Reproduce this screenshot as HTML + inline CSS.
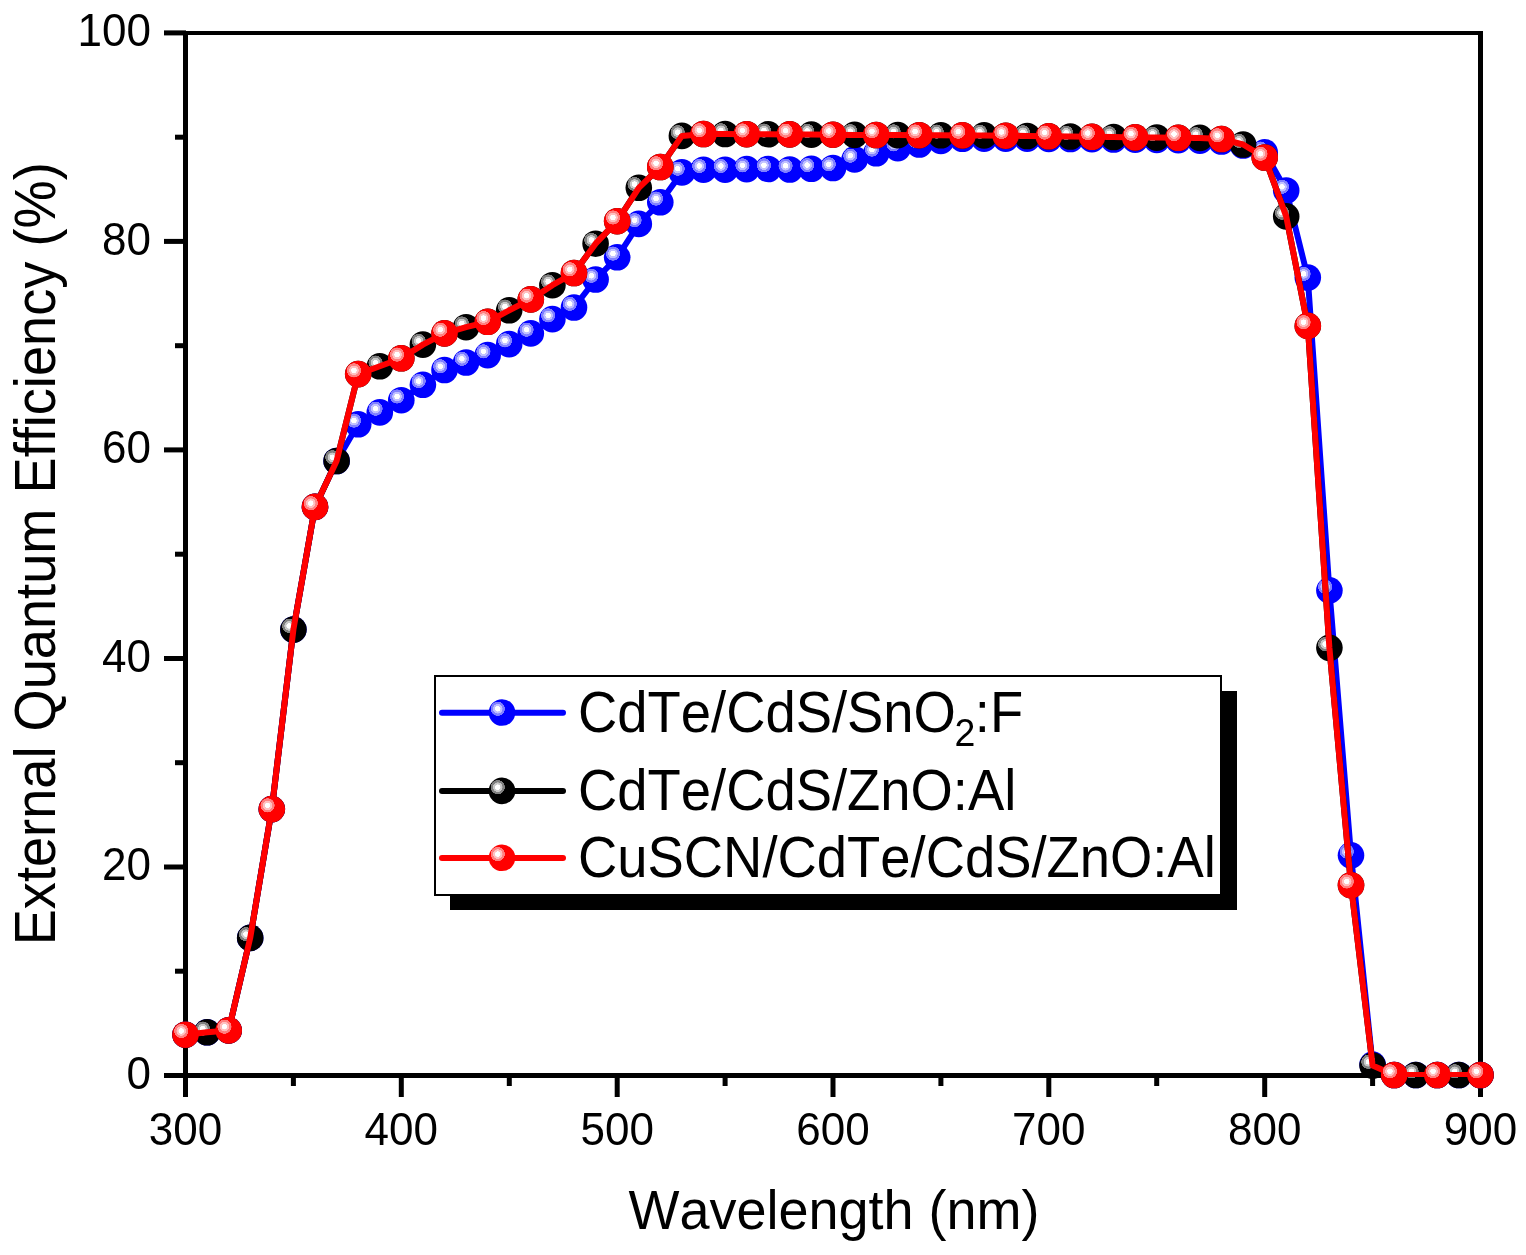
<!DOCTYPE html>
<html><head><meta charset="utf-8"><title>EQE</title>
<style>
html,body{margin:0;padding:0;background:#fff;}
body{width:1526px;height:1255px;overflow:hidden;}
svg{display:block;font-family:"Liberation Sans",Arial,sans-serif;font-kerning:none;font-feature-settings:"kern" 0;}
</style></head><body>
<svg width="1526" height="1255" viewBox="0 0 1526 1255">
<defs>
<radialGradient id="gB" cx="0.34" cy="0.36" fx="0.34" fy="0.36" r="0.27">
<stop offset="0" stop-color="#fff"/><stop offset="0.36" stop-color="#fff"/>
<stop offset="0.4" stop-color="#c0c0ff"/><stop offset="0.64" stop-color="#c0c0ff"/>
<stop offset="0.68" stop-color="#8080ff"/><stop offset="0.96" stop-color="#8080ff"/>
<stop offset="1" stop-color="#0000ff"/></radialGradient>
<radialGradient id="gK" cx="0.34" cy="0.36" fx="0.34" fy="0.36" r="0.27">
<stop offset="0" stop-color="#fff"/><stop offset="0.36" stop-color="#fff"/>
<stop offset="0.4" stop-color="#c8c8c8"/><stop offset="0.64" stop-color="#c8c8c8"/>
<stop offset="0.68" stop-color="#808080"/><stop offset="0.96" stop-color="#808080"/>
<stop offset="1" stop-color="#000000"/></radialGradient>
<radialGradient id="gR" cx="0.34" cy="0.36" fx="0.34" fy="0.36" r="0.27">
<stop offset="0" stop-color="#fff"/><stop offset="0.36" stop-color="#fff"/>
<stop offset="0.4" stop-color="#ffc0c0"/><stop offset="0.64" stop-color="#ffc0c0"/>
<stop offset="0.68" stop-color="#ff8080"/><stop offset="0.96" stop-color="#ff8080"/>
<stop offset="1" stop-color="#ff0000"/></radialGradient>
<clipPath id="clip"><rect x="183" y="31" width="1300" height="1046"/></clipPath>
</defs>
<rect width="1526" height="1255" fill="#fff"/>
<g fill="#000">
<rect x="183" y="31" width="1300" height="4"/>
<rect x="183" y="1073" width="1300" height="5"/>
<rect x="183" y="31" width="5" height="1066"/>
<rect x="1478" y="31" width="5" height="1066"/>
<rect x="164" y="1073.0" width="22" height="5"/>
<rect x="164" y="864.5" width="22" height="5"/>
<rect x="164" y="656.0" width="22" height="5"/>
<rect x="164" y="447.4" width="22" height="5"/>
<rect x="164" y="238.9" width="22" height="5"/>
<rect x="164" y="30.4" width="22" height="5"/>
<rect x="175" y="968.7" width="11" height="5"/>
<rect x="175" y="760.2" width="11" height="5"/>
<rect x="175" y="551.7" width="11" height="5"/>
<rect x="175" y="343.2" width="11" height="5"/>
<rect x="175" y="134.7" width="11" height="5"/>
<rect x="183.0" y="1075" width="5" height="22"/>
<rect x="398.8" y="1075" width="5" height="22"/>
<rect x="614.7" y="1075" width="5" height="22"/>
<rect x="830.5" y="1075" width="5" height="22"/>
<rect x="1046.3" y="1075" width="5" height="22"/>
<rect x="1262.2" y="1075" width="5" height="22"/>
<rect x="1478.0" y="1075" width="5" height="22"/>
<rect x="290.9" y="1075" width="5" height="11"/>
<rect x="506.8" y="1075" width="5" height="11"/>
<rect x="722.6" y="1075" width="5" height="11"/>
<rect x="938.4" y="1075" width="5" height="11"/>
<rect x="1154.2" y="1075" width="5" height="11"/>
<rect x="1370.1" y="1075" width="5" height="11"/>
</g>
<g font-size="44" fill="#000">
<text transform="translate(151,1088.8) scale(1,1.03)" text-anchor="end">0</text>
<text transform="translate(151,880.3) scale(1,1.03)" text-anchor="end">20</text>
<text transform="translate(151,671.8) scale(1,1.03)" text-anchor="end">40</text>
<text transform="translate(151,463.2) scale(1,1.03)" text-anchor="end">60</text>
<text transform="translate(151,254.7) scale(1,1.03)" text-anchor="end">80</text>
<text transform="translate(151,46.2) scale(1,1.03)" text-anchor="end">100</text>
</g>
<g font-size="44" fill="#000" text-anchor="middle">
<text transform="translate(185.5,1145) scale(1,1.03)">300</text>
<text transform="translate(401.3,1145) scale(1,1.03)">400</text>
<text transform="translate(617.2,1145) scale(1,1.03)">500</text>
<text transform="translate(833.0,1145) scale(1,1.03)">600</text>
<text transform="translate(1048.8,1145) scale(1,1.03)">700</text>
<text transform="translate(1264.7,1145) scale(1,1.03)">800</text>
<text transform="translate(1480.5,1145) scale(1,1.03)">900</text>
</g>
<text transform="translate(834,1228.7) scale(1,1.04)" font-size="54" text-anchor="middle">Wavelength (nm)</text>
<text transform="translate(55,553.8) rotate(-90) scale(1,1.045)" font-size="54.2" text-anchor="middle">External Quantum Efficiency (%)</text>
<g fill="none" stroke-width="6" stroke-linejoin="round" clip-path="url(#clip)">
<polyline stroke="#0000ff" points="185.5,1034.7 207.1,1032.3 228.7,1030.4 250.2,937.9 271.8,809.1 293.4,629.6 315.0,506.9 336.6,461.0 358.2,424.3 379.8,412.4 401.3,400.2 422.9,384.8 444.5,370.0 466.1,362.5 487.7,355.1 509.2,344.1 530.8,333.4 552.4,319.1 574.0,307.5 595.6,279.5 617.2,257.3 638.8,223.9 660.3,202.3 681.9,172.4 703.5,169.7 725.1,169.7 746.7,169.1 768.2,169.0 789.8,169.5 811.4,168.8 833.0,168.0 854.6,159.4 876.2,153.3 897.8,148.1 919.3,144.5 940.9,140.9 962.5,138.8 984.1,138.6 1005.7,138.6 1027.2,138.7 1048.8,138.9 1070.4,139.0 1092.0,139.2 1113.6,139.5 1135.2,139.7 1156.8,139.9 1178.3,140.1 1199.9,140.6 1221.5,141.5 1243.1,145.5 1264.7,152.3 1286.2,190.5 1307.8,277.6 1329.4,590.4 1351.0,855.3 1372.6,1064.6 1394.2,1075.0 1415.8,1075.0 1437.3,1075.0 1458.9,1075.0 1480.5,1075.0"/>
</g>
<circle cx="185.5" cy="1034.7" r="13.3" fill="url(#gB)"/>
<circle cx="207.1" cy="1032.3" r="13.3" fill="url(#gB)"/>
<circle cx="228.7" cy="1030.4" r="13.3" fill="url(#gB)"/>
<circle cx="250.2" cy="937.9" r="13.3" fill="url(#gB)"/>
<circle cx="271.8" cy="809.1" r="13.3" fill="url(#gB)"/>
<circle cx="293.4" cy="629.6" r="13.3" fill="url(#gB)"/>
<circle cx="315.0" cy="506.9" r="13.3" fill="url(#gB)"/>
<circle cx="336.6" cy="461.0" r="13.3" fill="url(#gB)"/>
<circle cx="358.2" cy="424.3" r="13.3" fill="url(#gB)"/>
<circle cx="379.8" cy="412.4" r="13.3" fill="url(#gB)"/>
<circle cx="401.3" cy="400.2" r="13.3" fill="url(#gB)"/>
<circle cx="422.9" cy="384.8" r="13.3" fill="url(#gB)"/>
<circle cx="444.5" cy="370.0" r="13.3" fill="url(#gB)"/>
<circle cx="466.1" cy="362.5" r="13.3" fill="url(#gB)"/>
<circle cx="487.7" cy="355.1" r="13.3" fill="url(#gB)"/>
<circle cx="509.2" cy="344.1" r="13.3" fill="url(#gB)"/>
<circle cx="530.8" cy="333.4" r="13.3" fill="url(#gB)"/>
<circle cx="552.4" cy="319.1" r="13.3" fill="url(#gB)"/>
<circle cx="574.0" cy="307.5" r="13.3" fill="url(#gB)"/>
<circle cx="595.6" cy="279.5" r="13.3" fill="url(#gB)"/>
<circle cx="617.2" cy="257.3" r="13.3" fill="url(#gB)"/>
<circle cx="638.8" cy="223.9" r="13.3" fill="url(#gB)"/>
<circle cx="660.3" cy="202.3" r="13.3" fill="url(#gB)"/>
<circle cx="681.9" cy="172.4" r="13.3" fill="url(#gB)"/>
<circle cx="703.5" cy="169.7" r="13.3" fill="url(#gB)"/>
<circle cx="725.1" cy="169.7" r="13.3" fill="url(#gB)"/>
<circle cx="746.7" cy="169.1" r="13.3" fill="url(#gB)"/>
<circle cx="768.2" cy="169.0" r="13.3" fill="url(#gB)"/>
<circle cx="789.8" cy="169.5" r="13.3" fill="url(#gB)"/>
<circle cx="811.4" cy="168.8" r="13.3" fill="url(#gB)"/>
<circle cx="833.0" cy="168.0" r="13.3" fill="url(#gB)"/>
<circle cx="854.6" cy="159.4" r="13.3" fill="url(#gB)"/>
<circle cx="876.2" cy="153.3" r="13.3" fill="url(#gB)"/>
<circle cx="897.8" cy="148.1" r="13.3" fill="url(#gB)"/>
<circle cx="919.3" cy="144.5" r="13.3" fill="url(#gB)"/>
<circle cx="940.9" cy="140.9" r="13.3" fill="url(#gB)"/>
<circle cx="962.5" cy="138.8" r="13.3" fill="url(#gB)"/>
<circle cx="984.1" cy="138.6" r="13.3" fill="url(#gB)"/>
<circle cx="1005.7" cy="138.6" r="13.3" fill="url(#gB)"/>
<circle cx="1027.2" cy="138.7" r="13.3" fill="url(#gB)"/>
<circle cx="1048.8" cy="138.9" r="13.3" fill="url(#gB)"/>
<circle cx="1070.4" cy="139.0" r="13.3" fill="url(#gB)"/>
<circle cx="1092.0" cy="139.2" r="13.3" fill="url(#gB)"/>
<circle cx="1113.6" cy="139.5" r="13.3" fill="url(#gB)"/>
<circle cx="1135.2" cy="139.7" r="13.3" fill="url(#gB)"/>
<circle cx="1156.8" cy="139.9" r="13.3" fill="url(#gB)"/>
<circle cx="1178.3" cy="140.1" r="13.3" fill="url(#gB)"/>
<circle cx="1199.9" cy="140.6" r="13.3" fill="url(#gB)"/>
<circle cx="1221.5" cy="141.5" r="13.3" fill="url(#gB)"/>
<circle cx="1243.1" cy="145.5" r="13.3" fill="url(#gB)"/>
<circle cx="1264.7" cy="152.3" r="13.3" fill="url(#gB)"/>
<circle cx="1286.2" cy="190.5" r="13.3" fill="url(#gB)"/>
<circle cx="1307.8" cy="277.6" r="13.3" fill="url(#gB)"/>
<circle cx="1329.4" cy="590.4" r="13.3" fill="url(#gB)"/>
<circle cx="1351.0" cy="855.3" r="13.3" fill="url(#gB)"/>
<circle cx="1372.6" cy="1064.6" r="13.3" fill="url(#gB)"/>
<circle cx="1394.2" cy="1075.0" r="13.3" fill="url(#gB)"/>
<circle cx="1415.8" cy="1075.0" r="13.3" fill="url(#gB)"/>
<circle cx="1437.3" cy="1075.0" r="13.3" fill="url(#gB)"/>
<circle cx="1458.9" cy="1075.0" r="13.3" fill="url(#gB)"/>
<circle cx="1480.5" cy="1075.0" r="13.3" fill="url(#gB)"/>
<g fill="none" stroke-width="6" stroke-linejoin="round" clip-path="url(#clip)">
<polyline stroke="#000" points="185.5,1034.7 207.1,1032.3 228.7,1030.4 250.2,937.9 271.8,809.1 293.4,629.6 315.0,506.9 336.6,461.0 358.2,374.1 379.8,366.3 401.3,358.3 422.9,344.6 444.5,333.4 466.1,327.2 487.7,321.8 509.2,310.3 530.8,299.4 552.4,285.2 574.0,273.0 595.6,243.7 617.2,221.2 638.8,187.8 660.3,167.0 681.9,135.9 703.5,134.0 725.1,134.0 746.7,134.2 768.2,134.3 789.8,134.4 811.4,134.6 833.0,134.7 854.6,134.9 876.2,135.0 897.8,135.1 919.3,135.2 940.9,135.3 962.5,135.4 984.1,135.4 1005.7,135.7 1027.2,136.0 1048.8,136.3 1070.4,136.5 1092.0,136.8 1113.6,137.0 1135.2,137.4 1156.8,137.6 1178.3,137.8 1199.9,137.9 1221.5,139.0 1243.1,144.5 1264.7,157.5 1286.2,216.4 1307.8,325.9 1329.4,647.8 1351.0,885.2 1372.6,1065.5 1394.2,1075.0 1415.8,1075.0 1437.3,1075.0 1458.9,1075.0 1480.5,1075.0"/>
</g>
<circle cx="185.5" cy="1034.7" r="13.3" fill="url(#gK)"/>
<circle cx="207.1" cy="1032.3" r="13.3" fill="url(#gK)"/>
<circle cx="228.7" cy="1030.4" r="13.3" fill="url(#gK)"/>
<circle cx="250.2" cy="937.9" r="13.3" fill="url(#gK)"/>
<circle cx="271.8" cy="809.1" r="13.3" fill="url(#gK)"/>
<circle cx="293.4" cy="629.6" r="13.3" fill="url(#gK)"/>
<circle cx="315.0" cy="506.9" r="13.3" fill="url(#gK)"/>
<circle cx="336.6" cy="461.0" r="13.3" fill="url(#gK)"/>
<circle cx="358.2" cy="374.1" r="13.3" fill="url(#gK)"/>
<circle cx="379.8" cy="366.3" r="13.3" fill="url(#gK)"/>
<circle cx="401.3" cy="358.3" r="13.3" fill="url(#gK)"/>
<circle cx="422.9" cy="344.6" r="13.3" fill="url(#gK)"/>
<circle cx="444.5" cy="333.4" r="13.3" fill="url(#gK)"/>
<circle cx="466.1" cy="327.2" r="13.3" fill="url(#gK)"/>
<circle cx="487.7" cy="321.8" r="13.3" fill="url(#gK)"/>
<circle cx="509.2" cy="310.3" r="13.3" fill="url(#gK)"/>
<circle cx="530.8" cy="299.4" r="13.3" fill="url(#gK)"/>
<circle cx="552.4" cy="285.2" r="13.3" fill="url(#gK)"/>
<circle cx="574.0" cy="273.0" r="13.3" fill="url(#gK)"/>
<circle cx="595.6" cy="243.7" r="13.3" fill="url(#gK)"/>
<circle cx="617.2" cy="221.2" r="13.3" fill="url(#gK)"/>
<circle cx="638.8" cy="187.8" r="13.3" fill="url(#gK)"/>
<circle cx="660.3" cy="167.0" r="13.3" fill="url(#gK)"/>
<circle cx="681.9" cy="135.9" r="13.3" fill="url(#gK)"/>
<circle cx="703.5" cy="134.0" r="13.3" fill="url(#gK)"/>
<circle cx="725.1" cy="134.0" r="13.3" fill="url(#gK)"/>
<circle cx="746.7" cy="134.2" r="13.3" fill="url(#gK)"/>
<circle cx="768.2" cy="134.3" r="13.3" fill="url(#gK)"/>
<circle cx="789.8" cy="134.4" r="13.3" fill="url(#gK)"/>
<circle cx="811.4" cy="134.6" r="13.3" fill="url(#gK)"/>
<circle cx="833.0" cy="134.7" r="13.3" fill="url(#gK)"/>
<circle cx="854.6" cy="134.9" r="13.3" fill="url(#gK)"/>
<circle cx="876.2" cy="135.0" r="13.3" fill="url(#gK)"/>
<circle cx="897.8" cy="135.1" r="13.3" fill="url(#gK)"/>
<circle cx="919.3" cy="135.2" r="13.3" fill="url(#gK)"/>
<circle cx="940.9" cy="135.3" r="13.3" fill="url(#gK)"/>
<circle cx="962.5" cy="135.4" r="13.3" fill="url(#gK)"/>
<circle cx="984.1" cy="135.4" r="13.3" fill="url(#gK)"/>
<circle cx="1005.7" cy="135.7" r="13.3" fill="url(#gK)"/>
<circle cx="1027.2" cy="136.0" r="13.3" fill="url(#gK)"/>
<circle cx="1048.8" cy="136.3" r="13.3" fill="url(#gK)"/>
<circle cx="1070.4" cy="136.5" r="13.3" fill="url(#gK)"/>
<circle cx="1092.0" cy="136.8" r="13.3" fill="url(#gK)"/>
<circle cx="1113.6" cy="137.0" r="13.3" fill="url(#gK)"/>
<circle cx="1135.2" cy="137.4" r="13.3" fill="url(#gK)"/>
<circle cx="1156.8" cy="137.6" r="13.3" fill="url(#gK)"/>
<circle cx="1178.3" cy="137.8" r="13.3" fill="url(#gK)"/>
<circle cx="1199.9" cy="137.9" r="13.3" fill="url(#gK)"/>
<circle cx="1221.5" cy="139.0" r="13.3" fill="url(#gK)"/>
<circle cx="1243.1" cy="144.5" r="13.3" fill="url(#gK)"/>
<circle cx="1264.7" cy="157.5" r="13.3" fill="url(#gK)"/>
<circle cx="1286.2" cy="216.4" r="13.3" fill="url(#gK)"/>
<circle cx="1307.8" cy="325.9" r="13.3" fill="url(#gK)"/>
<circle cx="1329.4" cy="647.8" r="13.3" fill="url(#gK)"/>
<circle cx="1351.0" cy="885.2" r="13.3" fill="url(#gK)"/>
<circle cx="1372.6" cy="1065.5" r="13.3" fill="url(#gK)"/>
<circle cx="1394.2" cy="1075.0" r="13.3" fill="url(#gK)"/>
<circle cx="1415.8" cy="1075.0" r="13.3" fill="url(#gK)"/>
<circle cx="1437.3" cy="1075.0" r="13.3" fill="url(#gK)"/>
<circle cx="1458.9" cy="1075.0" r="13.3" fill="url(#gK)"/>
<circle cx="1480.5" cy="1075.0" r="13.3" fill="url(#gK)"/>
<g fill="none" stroke-width="6" stroke-linejoin="round" clip-path="url(#clip)">
<polyline stroke="#ff0000" points="185.5,1034.7 207.1,1032.3 228.7,1030.4 250.2,937.9 271.8,809.1 293.4,629.6 315.0,506.9 336.6,461.0 358.2,374.1 379.8,366.3 401.3,358.3 422.9,344.6 444.5,333.4 466.1,327.2 487.7,321.8 509.2,310.3 530.8,299.4 552.4,285.2 574.0,273.0 595.6,243.7 617.2,221.2 638.8,187.8 660.3,167.0 681.9,135.9 703.5,134.0 725.1,134.0 746.7,134.2 768.2,134.3 789.8,134.4 811.4,134.6 833.0,134.7 854.6,134.9 876.2,135.0 897.8,135.1 919.3,135.2 940.9,135.3 962.5,135.4 984.1,135.4 1005.7,135.7 1027.2,136.0 1048.8,136.3 1070.4,136.5 1092.0,136.8 1113.6,137.0 1135.2,137.4 1156.8,137.6 1178.3,137.8 1199.9,137.9 1221.5,139.0 1243.1,144.5 1264.7,157.5 1286.2,216.4 1307.8,325.9 1329.4,647.8 1351.0,885.2 1372.6,1065.5 1394.2,1075.0 1415.8,1075.0 1437.3,1075.0 1458.9,1075.0 1480.5,1075.0"/>
</g>
<circle cx="185.5" cy="1034.7" r="13.3" fill="url(#gR)"/>
<circle cx="228.7" cy="1030.4" r="13.3" fill="url(#gR)"/>
<circle cx="271.8" cy="809.1" r="13.3" fill="url(#gR)"/>
<circle cx="315.0" cy="506.9" r="13.3" fill="url(#gR)"/>
<circle cx="358.2" cy="374.1" r="13.3" fill="url(#gR)"/>
<circle cx="401.3" cy="358.3" r="13.3" fill="url(#gR)"/>
<circle cx="444.5" cy="333.4" r="13.3" fill="url(#gR)"/>
<circle cx="487.7" cy="321.8" r="13.3" fill="url(#gR)"/>
<circle cx="530.8" cy="299.4" r="13.3" fill="url(#gR)"/>
<circle cx="574.0" cy="273.0" r="13.3" fill="url(#gR)"/>
<circle cx="617.2" cy="221.2" r="13.3" fill="url(#gR)"/>
<circle cx="660.3" cy="167.0" r="13.3" fill="url(#gR)"/>
<circle cx="703.5" cy="134.0" r="13.3" fill="url(#gR)"/>
<circle cx="746.7" cy="134.2" r="13.3" fill="url(#gR)"/>
<circle cx="789.8" cy="134.4" r="13.3" fill="url(#gR)"/>
<circle cx="833.0" cy="134.7" r="13.3" fill="url(#gR)"/>
<circle cx="876.2" cy="135.0" r="13.3" fill="url(#gR)"/>
<circle cx="919.3" cy="135.2" r="13.3" fill="url(#gR)"/>
<circle cx="962.5" cy="135.4" r="13.3" fill="url(#gR)"/>
<circle cx="1005.7" cy="135.7" r="13.3" fill="url(#gR)"/>
<circle cx="1048.8" cy="136.3" r="13.3" fill="url(#gR)"/>
<circle cx="1092.0" cy="136.8" r="13.3" fill="url(#gR)"/>
<circle cx="1135.2" cy="137.4" r="13.3" fill="url(#gR)"/>
<circle cx="1178.3" cy="137.8" r="13.3" fill="url(#gR)"/>
<circle cx="1221.5" cy="139.0" r="13.3" fill="url(#gR)"/>
<circle cx="1264.7" cy="157.5" r="13.3" fill="url(#gR)"/>
<circle cx="1307.8" cy="325.9" r="13.3" fill="url(#gR)"/>
<circle cx="1351.0" cy="885.2" r="13.3" fill="url(#gR)"/>
<circle cx="1394.2" cy="1075.0" r="13.3" fill="url(#gR)"/>
<circle cx="1437.3" cy="1075.0" r="13.3" fill="url(#gR)"/>
<circle cx="1480.5" cy="1075.0" r="13.3" fill="url(#gR)"/>
<!-- legend -->
<rect x="450" y="691" width="787" height="219" fill="#000"/>
<rect x="435" y="676" width="786" height="219" fill="#fff" stroke="#000" stroke-width="2"/>
<g stroke-width="6" stroke-linecap="round">
<line x1="442" y1="712.7" x2="563" y2="712.7" stroke="#0000ff"/>
<line x1="442" y1="790.9" x2="563" y2="790.9" stroke="#000"/>
<line x1="442" y1="857.9" x2="563" y2="857.9" stroke="#ff0000"/>
</g>
<circle cx="502" cy="712.5" r="13.3" fill="url(#gB)"/>
<circle cx="502" cy="790.9" r="13.3" fill="url(#gK)"/>
<circle cx="502" cy="857.8" r="13.3" fill="url(#gR)"/>
<g font-size="54.4" fill="#000">
<text transform="translate(578,732.1) scale(1,1.048)">CdTe/CdS/SnO<tspan font-size="37.5" dx="-1.4" dy="13.1">2</tspan><tspan dx="-0.6" dy="-13.1">:F</tspan></text>
<text transform="translate(578,810.1) scale(1,1.048)">CdTe/CdS/ZnO:Al</text>
<text transform="translate(578,877.2) scale(1,1.048)">CuSCN/CdTe/CdS/ZnO:Al</text>
</g>
</svg>
</body></html>
